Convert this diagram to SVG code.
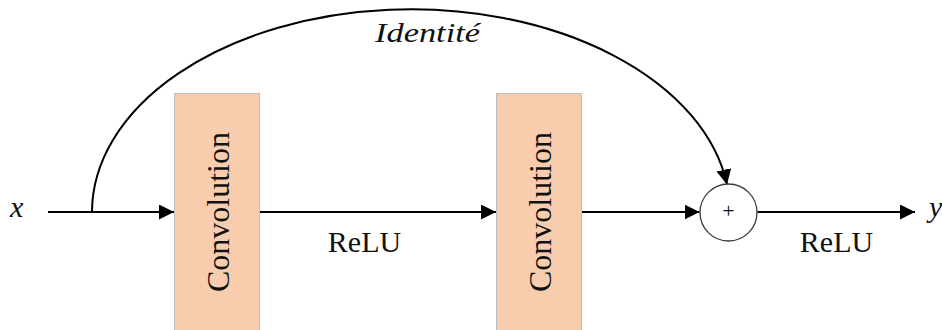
<svg xmlns="http://www.w3.org/2000/svg" width="942" height="330" viewBox="0 0 942 330">
  <style>
    .block { fill: #f8cdae; stroke: #bdbdbd; stroke-width: 1; }
    .lbl { font-family: "Liberation Serif", "Times New Roman", serif; fill: #111; }
    .it { font-style: italic; }
    .wire { fill: none; stroke: #000; stroke-width: 2; }
    .sum { fill: #fff; stroke: #3a3a3a; stroke-width: 1.3; }
  </style>
  <defs>
    <marker id="arrow" markerUnits="userSpaceOnUse" markerWidth="16" markerHeight="16" refX="15" refY="7.5" orient="auto">
      <path d="M0,0 L15,7.5 L0,15 Z" fill="#000"/>
    </marker>
  </defs>
  <rect width="942" height="330" fill="#fff"/>

  <!-- input / output symbols -->
  <text class="lbl it" x="10" y="217" font-size="30">x</text>
  <text class="lbl it" x="929" y="217" font-size="30">y</text>

  <!-- connectors -->
  <g id="connectors">
    <path class="wire" d="M48,212 H174" marker-end="url(#arrow)"/>
    <path class="wire" d="M259.5,212 H496" marker-end="url(#arrow)"/>
    <path class="wire" d="M581,212 H699.5" marker-end="url(#arrow)"/>
    <path class="wire" d="M757.5,212 H915" marker-end="url(#arrow)"/>
    <!-- skip connection -->
    <path class="wire" d="M92,212 A319,203 0 0 1 727,184.5" marker-end="url(#arrow)"/>
    <text class="lbl it" x="375" y="41.5" font-size="27" textLength="105" lengthAdjust="spacingAndGlyphs">Identité</text>
    <text class="lbl" x="364.5" y="252" font-size="30" text-anchor="middle">ReLU</text>
    <text class="lbl" x="836.5" y="252" font-size="30" text-anchor="middle">ReLU</text>
  </g>

  <g id="conv1">
    <rect class="block" x="174.5" y="93.5" width="85" height="250"/>
    <text class="lbl" transform="translate(228.5,212) rotate(-90)" font-size="32" text-anchor="middle">Convolution</text>
  </g>

  <g id="conv2">
    <rect class="block" x="496.5" y="93.5" width="85" height="250"/>
    <text class="lbl" transform="translate(550.5,212) rotate(-90)" font-size="32" text-anchor="middle">Convolution</text>
  </g>

  <g id="add">
    <circle class="sum" cx="728.5" cy="212.5" r="28.5"/>
    <text class="lbl" x="728.5" y="218" font-size="22" text-anchor="middle" fill="#333">+</text>
  </g>
</svg>
